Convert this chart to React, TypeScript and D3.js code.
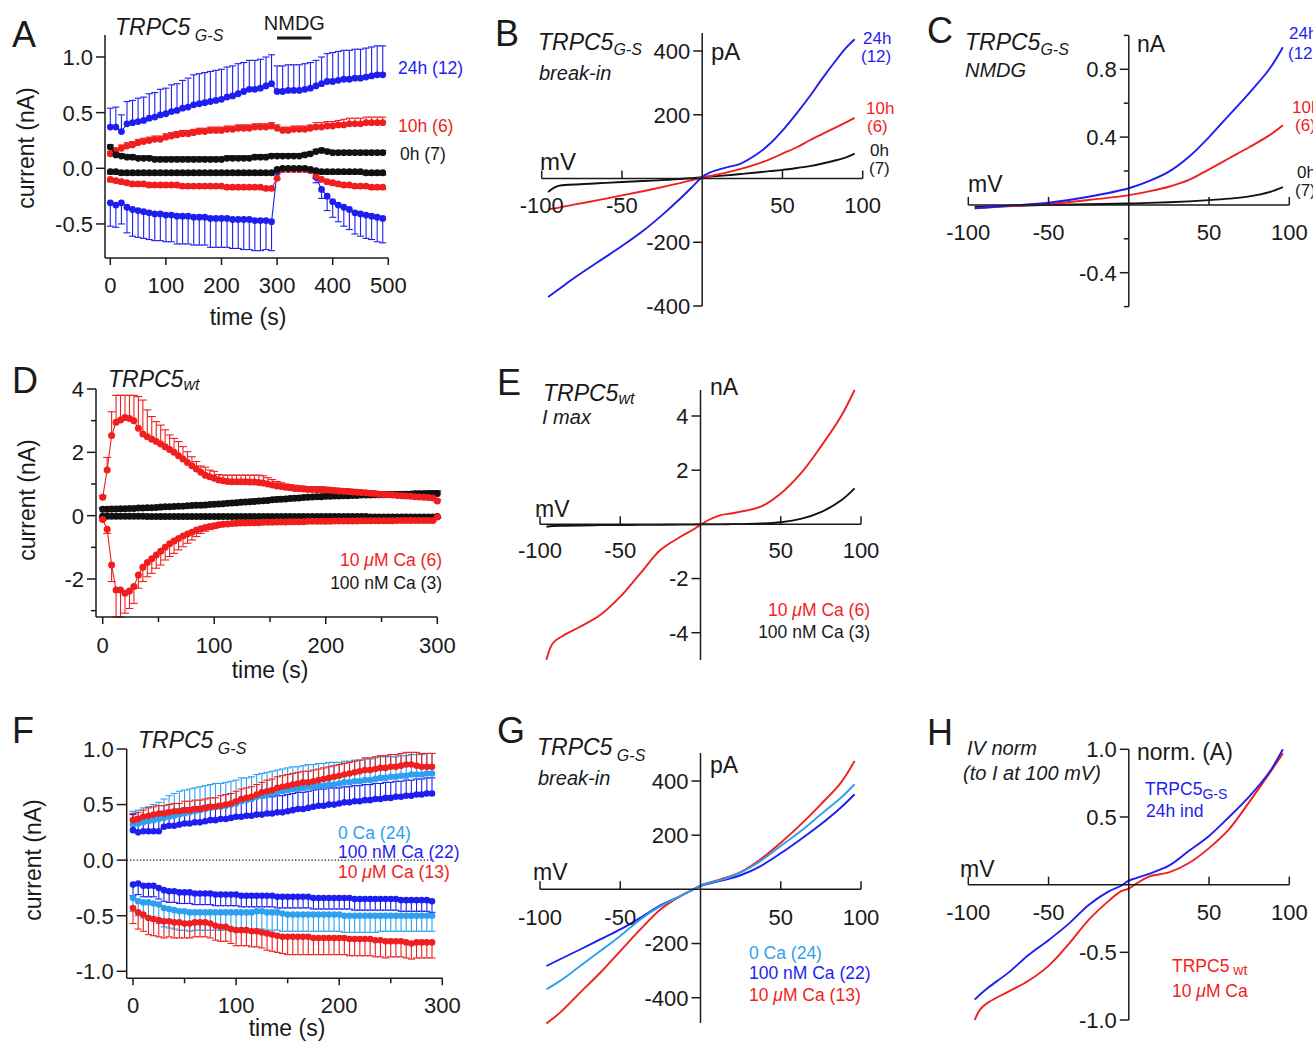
import React from "react";
import * as d3 from "d3";

const FONT = "'Liberation Sans', Arial, Helvetica, sans-serif";
const INK = "#1a1a1a";
const BLUE = "#1e1ef0";
const RED = "#f01e1e";
const SKY = "#2ea0f0";
const BLACK = "#111111";

// ---------- A: TRPC5 G-S time course (10 s sampling)
const aStep = 10;
const aBluePos = [0.37,0.37,0.33,0.40,0.41,0.42,0.43,0.45,0.46,0.48, 0.49,0.51,0.52,0.54,0.55,0.57,0.58,0.59,0.60,0.61, 0.62,0.64,0.65,0.67,0.69,0.71,0.71,0.72,0.74,0.76, 0.69,0.69,0.70,0.70,0.70,0.71,0.72,0.74,0.76,0.78, 0.78,0.79,0.80,0.80,0.81,0.81,0.82,0.83,0.84,0.84];
const aBluePosErr = [0.17,0.18,0.15,0.20,0.20,0.21,0.21,0.22,0.22,0.23, 0.23,0.24,0.24,0.25,0.26,0.27,0.27,0.27,0.27,0.27, 0.27,0.27,0.27,0.27,0.26,0.26,0.26,0.26,0.26,0.26, 0.23,0.23,0.23,0.23,0.23,0.23,0.23,0.23,0.24,0.25, 0.26,0.26,0.26,0.26,0.26,0.26,0.26,0.26,0.26,0.26];
const aBlueNeg = [-0.31,-0.33,-0.31,-0.35,-0.37,-0.38,-0.39,-0.40,-0.41,-0.41, -0.42,-0.42,-0.43,-0.43,-0.43,-0.44,-0.44,-0.44,-0.45,-0.45, -0.45,-0.45,-0.46,-0.46,-0.46,-0.46,-0.47,-0.47,-0.47,-0.48, -0.03,-0.01,-0.01,-0.01,-0.01,-0.01,-0.02,-0.08,-0.19,-0.25, -0.30,-0.33,-0.35,-0.37,-0.40,-0.41,-0.42,-0.43,-0.44,-0.45];
const aBlueNegErr = [0.21,0.20,0.19,0.23,0.24,0.24,0.24,0.24,0.24,0.24, 0.24,0.24,0.25,0.25,0.25,0.25,0.25,0.25,0.26,0.26, 0.26,0.26,0.26,0.26,0.27,0.27,0.27,0.27,0.26,0.26, 0,0,0,0,0,0,0,0.05,0.08,0.13, 0.14,0.15,0.17,0.18,0.19,0.20,0.21,0.21,0.22,0.22];
const aRedPos = [0.13,0.16,0.18,0.20,0.21,0.23,0.24,0.25,0.26,0.26, 0.28,0.29,0.30,0.31,0.31,0.32,0.33,0.33,0.34,0.34, 0.34,0.35,0.35,0.36,0.36,0.36,0.37,0.37,0.37,0.38, 0.36,0.34,0.34,0.35,0.35,0.35,0.36,0.37,0.37,0.38, 0.38,0.39,0.39,0.40,0.40,0.40,0.41,0.41,0.41,0.41];
const aRedPosErr = [0.02,0.02,0.03,0.03,0.03,0.03,0.03,0.03,0.03,0.03, 0.03,0.03,0.03,0.03,0.03,0.03,0.03,0.03,0.03,0.03, 0.03,0.03,0.03,0.03,0.03,0.03,0.03,0.03,0.03,0.03, 0.03,0.03,0.03,0.03,0.03,0.03,0.03,0.04,0.04,0.04, 0.04,0.04,0.05,0.05,0.05,0.05,0.05,0.05,0.05,0.05];
const aRedNeg = [-0.10,-0.11,-0.12,-0.13,-0.14,-0.14,-0.14,-0.15,-0.15,-0.15, -0.15,-0.15,-0.15,-0.16,-0.16,-0.16,-0.16,-0.16,-0.16,-0.16, -0.16,-0.17,-0.17,-0.17,-0.17,-0.17,-0.17,-0.17,-0.18,-0.18, -0.09,-0.01,-0.01,-0.01,-0.01,-0.01,-0.02,-0.07,-0.10,-0.12, -0.13,-0.14,-0.15,-0.15,-0.16,-0.16,-0.16,-0.17,-0.17,-0.17];
const aRedNegErr = [0.02,0.02,0.02,0.02,0.02,0.02,0.02,0.02,0.02,0.02, 0.02,0.02,0.02,0.02,0.02,0.02,0.02,0.02,0.02,0.02, 0.02,0.02,0.02,0.02,0.02,0.02,0.02,0.02,0.02,0.02, 0.01,0.01,0.01,0.01,0.01,0.01,0.01,0.02,0.02,0.02, 0.02,0.02,0.02,0.02,0.02,0.02,0.02,0.02,0.02,0.02];
const aBlackPos = [0.19,0.12,0.11,0.10,0.10,0.09,0.09,0.09,0.08,0.08, 0.08,0.08,0.08,0.08,0.08,0.08,0.08,0.08,0.08,0.08, 0.08,0.09,0.09,0.09,0.09,0.09,0.10,0.10,0.10,0.11, 0.11,0.11,0.11,0.11,0.11,0.12,0.13,0.15,0.16,0.15, 0.14,0.14,0.14,0.14,0.14,0.14,0.14,0.14,0.14,0.14];
const aBlackPosErr = [0.02,0.02,0.02,0.02,0.02,0.02,0.02,0.02,0.02,0.02, 0.02,0.02,0.02,0.02,0.02,0.02,0.02,0.02,0.02,0.02, 0.02,0.02,0.02,0.02,0.02,0.02,0.02,0.02,0.02,0.02, 0.02,0.02,0.02,0.02,0.02,0.02,0.02,0.02,0.02,0.02, 0.02,0.02,0.02,0.02,0.02,0.02,0.02,0.02,0.02,0.02];
const aBlackNeg = [-0.03,-0.03,-0.04,-0.04,-0.04,-0.04,-0.04,-0.04,-0.04,-0.04, -0.04,-0.04,-0.04,-0.04,-0.04,-0.04,-0.04,-0.04,-0.04,-0.04, -0.04,-0.04,-0.04,-0.04,-0.04,-0.04,-0.04,-0.04,-0.04,-0.04, -0.01,0.00,0.00,0.00,0.00,0.00,-0.01,-0.02,-0.03,-0.03, -0.03,-0.03,-0.03,-0.03,-0.03,-0.03,-0.04,-0.04,-0.04,-0.04];
const aBlackNegErr = aBlackPosErr;

// ---------- D: TRPC5 wt time course (4 s sampling)
const dStep = 4;
const dRedPos = [0.58,1.44,2.53,2.95,3.02,3.10,3.07,3.00,2.76,2.58, 2.49,2.41,2.34,2.26,2.18,2.09,2.00,1.89,1.79,1.68, 1.58,1.47,1.37,1.28,1.23,1.18,1.13,1.10,1.08,1.07, 1.07,1.07,1.07,1.06,1.06,1.05,1.03,1.00,0.97,0.94, 0.92,0.90,0.88,0.86,0.85,0.84,0.83,0.83,0.82,0.82, 0.81,0.80,0.79,0.78,0.77,0.76,0.75,0.74,0.73,0.72, 0.71,0.70,0.68,0.67,0.66,0.65,0.64,0.63,0.62,0.61, 0.60,0.59,0.58,0.57,0.56,0.46];
const dRedPosErr = [0.05,0.40,0.75,0.85,0.78,0.70,0.73,0.80,1.00,1.07, 0.85,0.72,0.63,0.60,0.53,0.46,0.44,0.45,0.39,0.34, 0.28,0.24,0.20,0.25,0.21,0.22,0.17,0.18,0.20,0.21, 0.21,0.21,0.21,0.22,0.22,0.23,0.23,0.20,0.17,0.14, 0.12,0.10,0.10,0.10,0.09,0.09,0.09,0.09,0.09,0.09, 0.09,0.08,0.08,0.08,0.08,0.08,0.08,0.08,0.07,0.07, 0.07,0.07,0.07,0.06,0.06,0.06,0.06,0.06,0.06,0.05, 0.05,0.05,0.05,0.05,0.05,0.05];
const dRedNeg = [-0.12,-0.43,-1.56,-2.35,-2.35,-2.45,-2.38,-2.24,-1.87,-1.63, -1.48,-1.36,-1.24,-1.12,-1.00,-0.89,-0.80,-0.72,-0.64,-0.58, -0.52,-0.45,-0.41,-0.37,-0.34,-0.32,-0.29,-0.27,-0.26,-0.25, -0.24,-0.23,-0.23,-0.22,-0.22,-0.22,-0.21,-0.21,-0.21,-0.20, -0.20,-0.20,-0.19,-0.19,-0.19,-0.19,-0.18,-0.18,-0.18,-0.18, -0.18,-0.18,-0.17,-0.17,-0.17,-0.17,-0.17,-0.17,-0.16,-0.16, -0.16,-0.16,-0.16,-0.16,-0.16,-0.16,-0.15,-0.15,-0.15,-0.15, -0.15,-0.15,-0.15,-0.15,-0.15,-0.04];
const dRedNegErr = [0.02,0.13,0.52,0.85,0.85,0.63,0.55,0.53,0.42,0.45, 0.45,0.46,0.42,0.44,0.40,0.40,0.39,0.36,0.34,0.29, 0.25,0.21,0.15,0.12,0.10,0.08,0.06,0.05,0.05,0.04, 0.04,0.04,0.04,0.03,0.03,0.03,0.03,0.03,0.03,0.03, 0.03,0.03,0.03,0.03,0.03,0.03,0.03,0.03,0.03,0.03, 0.03,0.03,0.03,0.03,0.03,0.03,0.03,0.03,0.03,0.03, 0.03,0.03,0.03,0.03,0.03,0.03,0.03,0.03,0.03,0.03, 0.03,0.03,0.03,0.03,0.03,0.03];
const dBlackPos = [0.20,0.20,0.21,0.21,0.22,0.22,0.23,0.23,0.24,0.24, 0.25,0.25,0.26,0.27,0.28,0.28,0.29,0.30,0.30,0.31, 0.32,0.33,0.33,0.34,0.35,0.36,0.37,0.38,0.39,0.40, 0.41,0.42,0.43,0.44,0.45,0.46,0.47,0.48,0.50,0.51, 0.52,0.53,0.54,0.55,0.56,0.57,0.58,0.59,0.60,0.60, 0.61,0.61,0.62,0.62,0.63,0.63,0.64,0.64,0.65,0.65, 0.65,0.66,0.66,0.66,0.67,0.67,0.67,0.68,0.68,0.68, 0.69,0.69,0.69,0.70,0.70,0.70];
const dBlackPosErr = [0.05,0.05,0.05,0.05,0.05,0.05,0.05,0.05,0.05,0.05, 0.05,0.05,0.05,0.05,0.05,0.05,0.05,0.05,0.05,0.05, 0.06,0.06,0.06,0.06,0.06,0.06,0.06,0.06,0.06,0.06, 0.07,0.07,0.07,0.07,0.07,0.07,0.07,0.07,0.07,0.07, 0.07,0.07,0.07,0.07,0.07,0.07,0.07,0.07,0.07,0.07, 0.08,0.08,0.08,0.08,0.08,0.08,0.08,0.08,0.08,0.08, 0.08,0.08,0.08,0.08,0.08,0.08,0.08,0.08,0.08,0.08, 0.08,0.08,0.08,0.08,0.08,0.08];
const dBlackNeg = [-0.02,-0.02,-0.02,-0.02,-0.02,-0.02,-0.02,-0.02,-0.02,-0.02, -0.03,-0.03,-0.03,-0.03,-0.03,-0.03,-0.03,-0.03,-0.03,-0.03, -0.03,-0.03,-0.03,-0.03,-0.03,-0.03,-0.03,-0.03,-0.03,-0.03, -0.03,-0.03,-0.03,-0.03,-0.03,-0.03,-0.03,-0.03,-0.03,-0.03, -0.03,-0.03,-0.03,-0.03,-0.03,-0.03,-0.03,-0.03,-0.03,-0.03, -0.03,-0.03,-0.03,-0.03,-0.03,-0.03,-0.03,-0.03,-0.03,-0.03, -0.04,-0.04,-0.04,-0.04,-0.04,-0.04,-0.04,-0.04,-0.04,-0.04, -0.04,-0.04,-0.04,-0.04,-0.04,-0.03];
const dBlackNegErr = dBlackNeg.map(() => 0.03);

// ---------- F: TRPC5 G-S vs Ca (5 s sampling)
const fStep = 5;
const fSkyPos = [0.32,0.33,0.34,0.35,0.36,0.37,0.38,0.39,0.40,0.41, 0.42,0.43,0.44,0.45,0.46,0.47,0.48,0.48,0.49,0.50, 0.51,0.53,0.54,0.55,0.57,0.58,0.59,0.60,0.61,0.62, 0.63,0.64,0.64,0.65,0.66,0.66,0.67,0.67,0.68,0.68, 0.69,0.70,0.70,0.71,0.71,0.72,0.72,0.73,0.74,0.74, 0.75,0.75,0.76,0.76,0.77,0.77,0.77,0.78,0.78];
const fSkyPosErr = [0.12,0.12,0.13,0.13,0.14,0.15,0.17,0.19,0.20,0.21, 0.21,0.21,0.21,0.21,0.21,0.21,0.21,0.21,0.21,0.21, 0.21,0.21,0.20,0.20,0.20,0.20,0.20,0.20,0.20,0.20, 0.20,0.20,0.20,0.20,0.20,0.20,0.20,0.20,0.20,0.20, 0.19,0.19,0.19,0.19,0.19,0.19,0.19,0.19,0.19,0.19, 0.18,0.18,0.18,0.18,0.18,0.18,0.18,0.18,0.18];
const fBluePos = [0.27,0.25,0.26,0.26,0.26,0.26,0.30,0.31,0.31,0.32, 0.33,0.33,0.34,0.34,0.35,0.36,0.36,0.37,0.37,0.38, 0.39,0.39,0.40,0.40,0.41,0.41,0.42,0.42,0.43,0.43, 0.44,0.45,0.46,0.46,0.47,0.48,0.49,0.49,0.50,0.50, 0.51,0.52,0.52,0.53,0.53,0.54,0.54,0.55,0.55,0.56, 0.56,0.57,0.57,0.58,0.58,0.59,0.59,0.60,0.60];
const fBluePosErr = [0.14,0.14,0.14,0.14,0.14,0.14,0.14,0.14,0.14,0.14, 0.14,0.14,0.14,0.14,0.14,0.14,0.14,0.14,0.14,0.14, 0.15,0.15,0.15,0.15,0.15,0.15,0.15,0.15,0.15,0.15, 0.15,0.15,0.15,0.15,0.15,0.15,0.15,0.15,0.15,0.15, 0.14,0.14,0.14,0.14,0.14,0.14,0.14,0.14,0.14,0.14, 0.14,0.14,0.14,0.14,0.14,0.14,0.14,0.14,0.14];
const fRedPos = [0.36,0.37,0.39,0.40,0.41,0.42,0.42,0.43,0.44,0.44, 0.45,0.45,0.46,0.46,0.47,0.48,0.48,0.49,0.50,0.51, 0.53,0.55,0.56,0.57,0.59,0.61,0.62,0.63,0.65,0.66, 0.67,0.68,0.69,0.70,0.70,0.71,0.72,0.73,0.74,0.75, 0.76,0.77,0.78,0.79,0.80,0.81,0.81,0.82,0.83,0.83, 0.84,0.84,0.85,0.86,0.86,0.85,0.84,0.84,0.84];
const fRedPosErr = [0.06,0.06,0.06,0.07,0.07,0.07,0.07,0.07,0.07,0.07, 0.08,0.08,0.08,0.08,0.08,0.08,0.08,0.09,0.09,0.09, 0.09,0.09,0.09,0.09,0.09,0.09,0.10,0.10,0.10,0.10, 0.10,0.10,0.10,0.10,0.10,0.10,0.10,0.10,0.10,0.10, 0.10,0.10,0.10,0.10,0.10,0.11,0.11,0.11,0.11,0.11, 0.11,0.11,0.11,0.11,0.11,0.12,0.12,0.12,0.12];
const fBlueNeg = [-0.22,-0.21,-0.23,-0.23,-0.23,-0.25,-0.27,-0.28,-0.28,-0.29, -0.29,-0.29,-0.30,-0.30,-0.30,-0.30,-0.31,-0.31,-0.31,-0.31, -0.31,-0.32,-0.32,-0.32,-0.32,-0.32,-0.32,-0.32,-0.33,-0.33, -0.33,-0.33,-0.33,-0.33,-0.33,-0.34,-0.34,-0.34,-0.34,-0.34, -0.34,-0.34,-0.34,-0.35,-0.35,-0.35,-0.35,-0.35,-0.35,-0.35, -0.35,-0.35,-0.36,-0.36,-0.36,-0.36,-0.36,-0.36,-0.37];
const fBlueNegErr = fBlueNeg.map(() => 0.1);
const fSkyNeg = [-0.34,-0.37,-0.38,-0.38,-0.39,-0.40,-0.43,-0.44,-0.45,-0.46, -0.46,-0.47,-0.47,-0.47,-0.47,-0.47,-0.47,-0.47,-0.47,-0.47, -0.47,-0.47,-0.47,-0.47,-0.46,-0.46,-0.47,-0.47,-0.47,-0.48, -0.49,-0.49,-0.49,-0.49,-0.49,-0.49,-0.49,-0.49,-0.49,-0.49, -0.49,-0.50,-0.50,-0.50,-0.50,-0.50,-0.50,-0.50,-0.50,-0.50, -0.50,-0.50,-0.50,-0.50,-0.50,-0.50,-0.50,-0.50,-0.50];
const fSkyNegErr = [0.12,0.13,0.14,0.15,0.16,0.17,0.17,0.17,0.17,0.17, 0.17,0.17,0.16,0.16,0.16,0.16,0.16,0.16,0.16,0.16, 0.16,0.16,0.16,0.16,0.16,0.16,0.16,0.16,0.16,0.16, 0.15,0.15,0.15,0.15,0.15,0.15,0.15,0.15,0.15,0.15, 0.15,0.15,0.15,0.15,0.15,0.15,0.15,0.15,0.14,0.14, 0.14,0.14,0.14,0.14,0.14,0.14,0.14,0.14,0.14];
const fRedNeg = [-0.43,-0.47,-0.49,-0.52,-0.53,-0.54,-0.55,-0.55,-0.56,-0.56, -0.57,-0.57,-0.56,-0.56,-0.56,-0.57,-0.59,-0.60,-0.60,-0.62, -0.63,-0.63,-0.63,-0.64,-0.64,-0.65,-0.66,-0.67,-0.68,-0.69, -0.69,-0.69,-0.69,-0.69,-0.69,-0.70,-0.70,-0.70,-0.70,-0.70, -0.70,-0.70,-0.71,-0.71,-0.71,-0.71,-0.71,-0.72,-0.72,-0.73, -0.73,-0.73,-0.73,-0.74,-0.75,-0.74,-0.74,-0.74,-0.74];
const fRedNegErr = [0.14,0.15,0.15,0.15,0.15,0.15,0.15,0.14,0.14,0.14, 0.13,0.13,0.13,0.13,0.13,0.13,0.13,0.13,0.13,0.13, 0.14,0.14,0.14,0.14,0.14,0.14,0.15,0.15,0.15,0.15, 0.16,0.16,0.16,0.16,0.16,0.15,0.15,0.15,0.15,0.15, 0.15,0.15,0.15,0.15,0.15,0.15,0.15,0.15,0.15,0.15, 0.14,0.14,0.14,0.14,0.14,0.14,0.14,0.14,0.14];

// ---------- B: break-in IV (pA)
const bV = [-96, -90, -80, -65, -50, -37, -25, -12, -5, 0, 5, 13, 24, 34, 42, 50, 59, 67, 75, 84, 90, 95];
const bBlue = [-372, -350, -313, -262, -212, -165, -115, -55, -20, 5, 19, 32, 47, 76, 108, 150, 205, 258, 315, 375, 412, 437];
const bRed = [-97, -92, -82, -68, -53, -40, -27, -12, -3, 3, 8, 16, 30, 45, 60, 78, 98, 120, 140, 162, 177, 190];
const bBlack = [-42, -24, -19, -15, -11, -8, -5, -1, 2, 4, 6, 9, 14, 19, 23, 27, 33, 39, 47, 58, 67, 78];

// ---------- C: NMDG IV (nA)
const cV = [-96, -75, -50, -25, 0, 12.5, 25, 37.5, 50, 62.5, 75, 87.5, 96];
const cBlue = [-0.02, -0.005, 0.013, 0.048, 0.098, 0.14, 0.196, 0.284, 0.4, 0.53, 0.66, 0.8, 0.93];
const cRed = [-0.02, -0.008, 0.005, 0.029, 0.058, 0.08, 0.107, 0.147, 0.21, 0.275, 0.34, 0.41, 0.47];
const cBlack = [-0.012, -0.006, 0, 0.004, 0.008, 0.012, 0.016, 0.021, 0.028, 0.037, 0.05, 0.075, 0.105];

// ---------- E: wt Imax IV (nA)
const eV = [-96, -92, -85, -75, -62.5, -50, -37.5, -25, -12.5, -5, 0, 5, 12.5, 20, 25, 37.5, 50, 62.5, 75, 87.5, 96];
const eRed = [-5.0, -4.39, -4.09, -3.78, -3.35, -2.67, -1.81, -0.95, -0.46, -0.21, -0.02, 0.16, 0.34, 0.41, 0.47, 0.65, 1.14, 1.88, 2.87, 3.98, 4.96];
const eBlack = [-0.09, -0.06, -0.05, -0.04, -0.03, -0.03, -0.02, -0.02, -0.01, -0.01, 0, 0, 0, 0.01, 0.01, 0.03, 0.08, 0.2, 0.45, 0.88, 1.33];

// ---------- G: break-in IV vs Ca (pA)
const gV = [-96, -87.5, -75, -62.5, -50, -37.5, -25, -12.5, -5, 0, 12.5, 25, 37.5, 50, 62.5, 75, 87.5, 96];
const gRed = [-495, -455, -381, -308, -228, -148, -74, -25, -2, 15, 37, 64, 111, 172, 240, 314, 394, 474];
const gSky = [-369, -338, -283, -228, -172, -111, -62, -25, -2, 15, 34, 62, 105, 160, 215, 277, 338, 388];
const gBlue = [-283, -258, -222, -185, -148, -105, -59, -25, -2, 12, 31, 52, 86, 133, 185, 240, 302, 351];

// ---------- H: normalised IV
const hV = [-96, -92.5, -87.5, -75, -62.5, -50, -37.5, -25, -12.5, -5, 0, 5, 12.5, 25, 37.5, 50, 62.5, 75, 87.5, 96];
const hBlue = [-0.85, -0.81, -0.76, -0.65, -0.52, -0.41, -0.29, -0.15, -0.05, -0.01, 0.03, 0.05, 0.08, 0.14, 0.25, 0.36, 0.5, 0.65, 0.83, 1.0];
const hRed = [-1.0, -0.92, -0.87, -0.79, -0.71, -0.6, -0.44, -0.26, -0.12, -0.05, -0.03, 0.01, 0.06, 0.09, 0.16, 0.27, 0.41, 0.61, 0.82, 0.97];

const mvTicks = [-100, -50, 50, 100];

type Scale = (v: number) => number;
type Trace = { v: number[]; e: number[]; dir: number; color: string };

function Txt(props: any) {
  const { size = 22, color = INK, italic, anchor = "start", children, ...rest } = props;
  return (
    <text fontFamily={FONT} fontSize={size} fill={color} fontStyle={italic ? "italic" : "normal"} textAnchor={anchor} {...rest}>
      {children}
    </text>
  );
}

function VAxis({ x0, y, from, to, ticks, fmt, minor = [], len = 9, minorLen = 5 }: any) {
  return (
    <g stroke={INK} strokeWidth={1.5}>
      <line x1={x0} x2={x0} y1={from} y2={to} />
      {ticks.map((t: number) => (
        <g key={t}>
          <line x1={x0 - len} x2={x0} y1={y(t)} y2={y(t)} />
          <Txt x={x0 - len - 3} y={y(t)} dy="0.36em" anchor="end" stroke="none">{fmt(t)}</Txt>
        </g>
      ))}
      {minor.map((t: number) => <line key={"m" + t} x1={x0 - minorLen} x2={x0} y1={y(t)} y2={y(t)} />)}
    </g>
  );
}

function HAxis({ y0, x, from, to, ticks, minor = [], dir = 1, len = 7, minorLen = 5, labelY }: any) {
  return (
    <g stroke={INK} strokeWidth={1.5}>
      <line x1={from} x2={to} y1={y0} y2={y0} />
      {ticks.map((t: number) => (
        <g key={t}>
          <line x1={x(t)} x2={x(t)} y1={y0} y2={y0 + dir * len} />
          <Txt x={x(t)} y={labelY} anchor="middle" stroke="none">{String(t)}</Txt>
        </g>
      ))}
      {minor.map((t: number) => <line key={"m" + t} x1={x(t)} x2={x(t)} y1={y0} y2={y0 + dir * minorLen} />)}
    </g>
  );
}

function TimeTraces({ step, traces, x, y, r = 3.1, cap = 3.5 }: { step: number; traces: Trace[]; x: Scale; y: Scale; r?: number; cap?: number }) {
  return (
    <g>
      {traces.map((s, k) => (
        <g key={"e" + k} stroke={s.color} strokeWidth={1.1}>
          {s.v.map((d, i) => {
            if (!s.e[i]) return null;
            const cx = x(i * step);
            const y2 = y(d + s.dir * s.e[i]);
            return (
              <g key={i}>
                <line x1={cx} x2={cx} y1={y(d)} y2={y2} />
                <line x1={cx - cap} x2={cx + cap} y1={y2} y2={y2} />
              </g>
            );
          })}
        </g>
      ))}
      {traces.map((s, k) => {
        const line = d3.line<number>().x((_, i) => x(i * step)).y((d) => y(d));
        return (
          <g key={"d" + k} fill={s.color}>
            <path d={line(s.v) ?? ""} fill="none" stroke={s.color} strokeWidth={1.1} />
            {s.v.map((d, i) => <circle key={i} cx={x(i * step)} cy={y(d)} r={r} />)}
          </g>
        );
      })}
    </g>
  );
}

function Curve({ v, i, x, y, color }: { v: number[]; i: number[]; x: Scale; y: Scale; color: string }) {
  const line = d3.line<number>().x((_, k) => x(v[k])).y((d) => y(d)).curve(d3.curveCatmullRom.alpha(0.5));
  return <path d={line(i) ?? ""} fill="none" stroke={color} strokeWidth={1.9} />;
}

function Title({ x, y, main, sub, size = 23, subSize = 16, subDy = 6, color = INK, italic = true }: any) {
  return (
    <Txt x={x} y={y} size={size} color={color} italic={italic}>
      {main}
      <tspan fontSize={subSize} dy={subDy}>{sub}</tspan>
    </Txt>
  );
}

function Letter({ x, y, c }: any) {
  return <Txt x={x} y={y} size={36}>{c}</Txt>;
}

function Mu({ pre, post, ...rest }: any) {
  return (
    <Txt {...rest}>
      {pre}
      <tspan fontStyle="italic">μ</tspan>
      {post}
    </Txt>
  );
}

const f1 = (v: number) => v.toFixed(1);
const f0 = (v: number) => String(v);

function PanelA() {
  const x = d3.scaleLinear().domain([0, 500]).range([110.3, 388.3]);
  const y = d3.scaleLinear().domain([0, 1]).range([168.3, 57]);
  const traces: Trace[] = [
    { v: aBluePos, e: aBluePosErr, dir: 1, color: BLUE },
    { v: aBlueNeg, e: aBlueNegErr, dir: -1, color: BLUE },
    { v: aRedPos, e: aRedPosErr, dir: 1, color: RED },
    { v: aRedNeg, e: aRedNegErr, dir: -1, color: RED },
    { v: aBlackPos, e: aBlackPosErr, dir: 1, color: BLACK },
    { v: aBlackNeg, e: aBlackNegErr, dir: -1, color: BLACK },
  ];
  return (
    <g>
      <TimeTraces step={aStep} traces={traces} x={x} y={y} r={3.4} />
      <VAxis x0={105} y={y} from={35} to={258} ticks={[-0.5, 0, 0.5, 1]} fmt={f1} />
      <HAxis y0={258} x={x} from={105} to={388.3} ticks={[0, 100, 200, 300, 400, 500]} labelY={293} />
      <Txt x={0} y={0} size={23} anchor="middle" dy="0.36em" transform="translate(26,148) rotate(-90)">current (nA)</Txt>
      <Txt x={248} y={325} size={23} anchor="middle">time (s)</Txt>
      <Letter x={12} y={47} c="A" />
      <Title x={115} y={35} main="TRPC5" sub=" G-S" />
      <Txt x={x(331)} y={30} size={20} anchor="middle">NMDG</Txt>
      <line x1={x(300)} x2={x(362)} y1={38} y2={38} stroke={INK} strokeWidth={3} />
      <Txt x={398} y={68} dy="0.36em" size={17.5} color={BLUE}>24h (12)</Txt>
      <Txt x={398} y={126} dy="0.36em" size={17.5} color={RED}>10h (6)</Txt>
      <Txt x={400} y={154} dy="0.36em" size={17.5}>0h (7)</Txt>
    </g>
  );
}

function PanelB() {
  const x = d3.scaleLinear().domain([-100, 100]).range([541.7, 862.7]);
  const y = d3.scaleLinear().domain([-400, 400]).range([306, 51]);
  return (
    <g>
      <Curve v={bV} i={bBlack} x={x} y={y} color={BLACK} />
      <Curve v={bV} i={bRed} x={x} y={y} color={RED} />
      <Curve v={bV} i={bBlue} x={x} y={y} color={BLUE} />
      <VAxis x0={x(0)} y={y} from={33} to={306} ticks={[-400, -200, 200, 400]} fmt={f0} />
      <HAxis y0={y(0)} x={x} from={x(-100)} to={x(100)} ticks={mvTicks} dir={-1} len={8} labelY={213} />
      <Txt x={711} y={60} size={24}>pA</Txt>
      <Txt x={540} y={170} size={24}>mV</Txt>
      <Letter x={495} y={46} c="B" />
      <Title x={538} y={50} main="TRPC5" sub="G-S" subDy={5} />
      <Txt x={539} y={80} size={20} italic>break-in</Txt>
      <Txt x={863} y={38} dy="0.36em" size={17} color={BLUE}>24h</Txt>
      <Txt x={861} y={56} dy="0.36em" size={17} color={BLUE}>(12)</Txt>
      <Txt x={866} y={108} dy="0.36em" size={17} color={RED}>10h</Txt>
      <Txt x={867} y={126} dy="0.36em" size={17} color={RED}>(6)</Txt>
      <Txt x={870} y={150} dy="0.36em" size={17}>0h</Txt>
      <Txt x={869} y={168} dy="0.36em" size={17}>(7)</Txt>
    </g>
  );
}

function PanelC() {
  const x = d3.scaleLinear().domain([-100, 100]).range([968.3, 1289.3]);
  const y = d3.scaleLinear().domain([-0.4, 0.8]).range([272.7, 69.3]);
  return (
    <g>
      <Curve v={cV} i={cBlack} x={x} y={y} color={BLACK} />
      <Curve v={cV} i={cRed} x={x} y={y} color={RED} />
      <Curve v={cV} i={cBlue} x={x} y={y} color={BLUE} />
      <VAxis x0={x(0)} y={y} from={y(1.0)} to={y(-0.6)} ticks={[-0.4, 0.4, 0.8]} fmt={f1} minor={[-0.6, -0.2, 0.2, 0.6, 1.0]} />
      <HAxis y0={y(0)} x={x} from={x(-100)} to={x(100)} ticks={mvTicks} dir={-1} len={8} labelY={240} />
      <Txt x={1137} y={52} size={23}>nA</Txt>
      <Txt x={968} y={192} size={23}>mV</Txt>
      <Letter x={927} y={43} c="C" />
      <Title x={965} y={50} main="TRPC5" sub="G-S" subDy={5} />
      <Txt x={965} y={77} size={20} italic>NMDG</Txt>
      <Txt x={1289} y={33} dy="0.36em" size={17} color={BLUE}>24h</Txt>
      <Txt x={1288} y={53} dy="0.36em" size={17} color={BLUE}>(12)</Txt>
      <Txt x={1292} y={107} dy="0.36em" size={17} color={RED}>10h</Txt>
      <Txt x={1295} y={125} dy="0.36em" size={17} color={RED}>(6)</Txt>
      <Txt x={1297} y={172} dy="0.36em" size={17}>0h</Txt>
      <Txt x={1295} y={190} dy="0.36em" size={17}>(7)</Txt>
    </g>
  );
}

function PanelD() {
  const x = d3.scaleLinear().domain([0, 300]).range([102.7, 437.3]);
  const y = d3.scaleLinear().domain([-2, 4]).range([579, 389]);
  const traces: Trace[] = [
    { v: dBlackPos, e: dBlackPosErr, dir: 1, color: BLACK },
    { v: dBlackNeg, e: dBlackNegErr, dir: -1, color: BLACK },
    { v: dRedPos, e: dRedPosErr, dir: 1, color: RED },
    { v: dRedNeg, e: dRedNegErr, dir: -1, color: RED },
  ];
  return (
    <g>
      <TimeTraces step={dStep} traces={traces} x={x} y={y} r={3.5} cap={4} />
      <VAxis x0={96} y={y} from={389} to={617} ticks={[-2, 0, 2, 4]} fmt={f0} minor={[-3, -1, 1, 3]} />
      <HAxis y0={617} x={x} from={96} to={437.3} ticks={[0, 100, 200, 300]} minor={[50, 150, 250]} labelY={653} />
      <Txt x={0} y={0} size={23} anchor="middle" dy="0.36em" transform="translate(27,500) rotate(-90)">current (nA)</Txt>
      <Txt x={270} y={678} size={23} anchor="middle">time (s)</Txt>
      <Letter x={12} y={393} c="D" />
      <Title x={108} y={387} main="TRPC5" sub="wt" subDy={3} />
      <Mu x={442} y={560} dy="0.36em" size={17.5} anchor="end" color={RED} pre="10 " post="M Ca (6)" />
      <Txt x={442} y={583} dy="0.36em" size={17.5} anchor="end">100 nM Ca (3)</Txt>
    </g>
  );
}

function PanelE() {
  const x = d3.scaleLinear().domain([-100, 100]).range([540, 861]);
  const y = d3.scaleLinear().domain([-4, 4]).range([632.7, 416]);
  return (
    <g>
      <Curve v={eV} i={eBlack} x={x} y={y} color={BLACK} />
      <Curve v={eV} i={eRed} x={x} y={y} color={RED} />
      <VAxis x0={x(0)} y={y} from={390} to={660} ticks={[-4, -2, 2, 4]} fmt={f0} />
      <HAxis y0={y(0)} x={x} from={x(-100)} to={x(100)} ticks={mvTicks} dir={-1} len={8} labelY={558} />
      <Txt x={710} y={395} size={23}>nA</Txt>
      <Txt x={535} y={517} size={23}>mV</Txt>
      <Letter x={497} y={395} c="E" />
      <Title x={543} y={401} main="TRPC5" sub="wt" subDy={3} />
      <Txt x={542} y={424} size={20} italic>I max</Txt>
      <Mu x={870} y={610} dy="0.36em" size={17.5} anchor="end" color={RED} pre="10 " post="M Ca (6)" />
      <Txt x={870} y={632} dy="0.36em" size={17.5} anchor="end">100 nM Ca (3)</Txt>
    </g>
  );
}

function PanelF() {
  const x = d3.scaleLinear().domain([0, 300]).range([133, 442.3]);
  const y = d3.scaleLinear().domain([-1, 1]).range([971.3, 749]);
  const traces: Trace[] = [
    { v: fSkyPos, e: fSkyPosErr, dir: 1, color: SKY },
    { v: fSkyNeg, e: fSkyNegErr, dir: -1, color: SKY },
    { v: fBluePos, e: fBluePosErr, dir: 1, color: BLUE },
    { v: fBlueNeg, e: fBlueNegErr, dir: -1, color: BLUE },
    { v: fRedPos, e: fRedPosErr, dir: 1, color: RED },
    { v: fRedNeg, e: fRedNegErr, dir: -1, color: RED },
  ];
  return (
    <g>
      <line x1={126.7} x2={433} y1={y(0)} y2={y(0)} stroke={INK} strokeWidth={1.3} strokeDasharray="1.3,2" />
      <TimeTraces step={fStep} traces={traces} x={x} y={y} r={3.3} />
      <VAxis x0={126.7} y={y} from={749} to={978.3} ticks={[-1, -0.5, 0, 0.5, 1]} fmt={f1} len={10} />
      <HAxis y0={978.3} x={x} from={126.7} to={442.7} ticks={[0, 100, 200, 300]} minor={[50, 150, 250]} labelY={1013} />
      <Txt x={0} y={0} size={23} anchor="middle" dy="0.36em" transform="translate(33,860) rotate(-90)">current (nA)</Txt>
      <Txt x={287} y={1036} size={23} anchor="middle">time (s)</Txt>
      <Letter x={12} y={743} c="F" />
      <Title x={138} y={748} main="TRPC5" sub=" G-S" />
      <Txt x={338} y={833} dy="0.36em" size={17.5} color={SKY}>0 Ca (24)</Txt>
      <Txt x={338} y={852} dy="0.36em" size={17.5} color={BLUE}>100 nM Ca (22)</Txt>
      <Mu x={338} y={872} dy="0.36em" size={17.5} color={RED} pre="10 " post="M Ca (13)" />
    </g>
  );
}

function PanelG() {
  const x = d3.scaleLinear().domain([-100, 100]).range([540, 861]);
  const y = d3.scaleLinear().domain([-400, 400]).range([997.7, 781]);
  return (
    <g>
      <Curve v={gV} i={gBlue} x={x} y={y} color={BLUE} />
      <Curve v={gV} i={gRed} x={x} y={y} color={RED} />
      <Curve v={gV} i={gSky} x={x} y={y} color={SKY} />
      <VAxis x0={x(0)} y={y} from={753} to={1023} ticks={[-400, -200, 200, 400]} fmt={f0} />
      <HAxis y0={y(0)} x={x} from={x(-100)} to={x(100)} ticks={mvTicks} dir={-1} len={8} labelY={925} />
      <Txt x={710} y={773} size={23}>pA</Txt>
      <Txt x={533} y={880} size={23}>mV</Txt>
      <Letter x={497} y={743} c="G" />
      <Title x={537} y={755} main="TRPC5" sub=" G-S" subDy={6} />
      <Txt x={538} y={785} size={20} italic>break-in</Txt>
      <Txt x={749} y={953} dy="0.36em" size={17.5} color={SKY}>0 Ca (24)</Txt>
      <Txt x={749} y={973} dy="0.36em" size={17.5} color={BLUE}>100 nM Ca (22)</Txt>
      <Mu x={749} y={995} dy="0.36em" size={17.5} color={RED} pre="10 " post="M Ca (13)" />
    </g>
  );
}

function PanelH() {
  const x = d3.scaleLinear().domain([-100, 100]).range([968.3, 1289.3]);
  const y = d3.scaleLinear().domain([-1, 1]).range([1020, 749.3]);
  return (
    <g>
      <Curve v={hV} i={hRed} x={x} y={y} color={RED} />
      <Curve v={hV} i={hBlue} x={x} y={y} color={BLUE} />
      <VAxis x0={x(0)} y={y} from={749.3} to={1020} ticks={[-1, -0.5, 0.5, 1]} fmt={f1} />
      <HAxis y0={y(0)} x={x} from={x(-100)} to={x(100)} ticks={mvTicks} dir={-1} len={8} labelY={920} />
      <Txt x={1137} y={760} size={23}>norm. (A)</Txt>
      <Txt x={960} y={877} size={23}>mV</Txt>
      <Letter x={927} y={745} c="H" />
      <Txt x={967} y={755} size={20} italic>IV norm</Txt>
      <Txt x={963} y={780} size={20} italic>(to I at 100 mV)</Txt>
      <Title x={1145} y={795} main="TRPC5" sub="G-S" size={17.5} subSize={14} subDy={4} color={BLUE} italic={false} />
      <Txt x={1146} y={817} size={17.5} color={BLUE}>24h ind</Txt>
      <Title x={1172} y={972} main="TRPC5" sub=" wt" size={17.5} subSize={14} subDy={3} color={RED} italic={false} />
      <Mu x={1172} y={997} size={17.5} color={RED} pre="10 " post="M Ca" />
    </g>
  );
}

export default function App() {
  return (
    <svg width={1313} height={1043} style={{ position: "absolute", left: 0, top: 0, background: "#fff" }}>
      <PanelA />
      <PanelB />
      <PanelC />
      <PanelD />
      <PanelE />
      <PanelF />
      <PanelG />
      <PanelH />
    </svg>
  );
}
